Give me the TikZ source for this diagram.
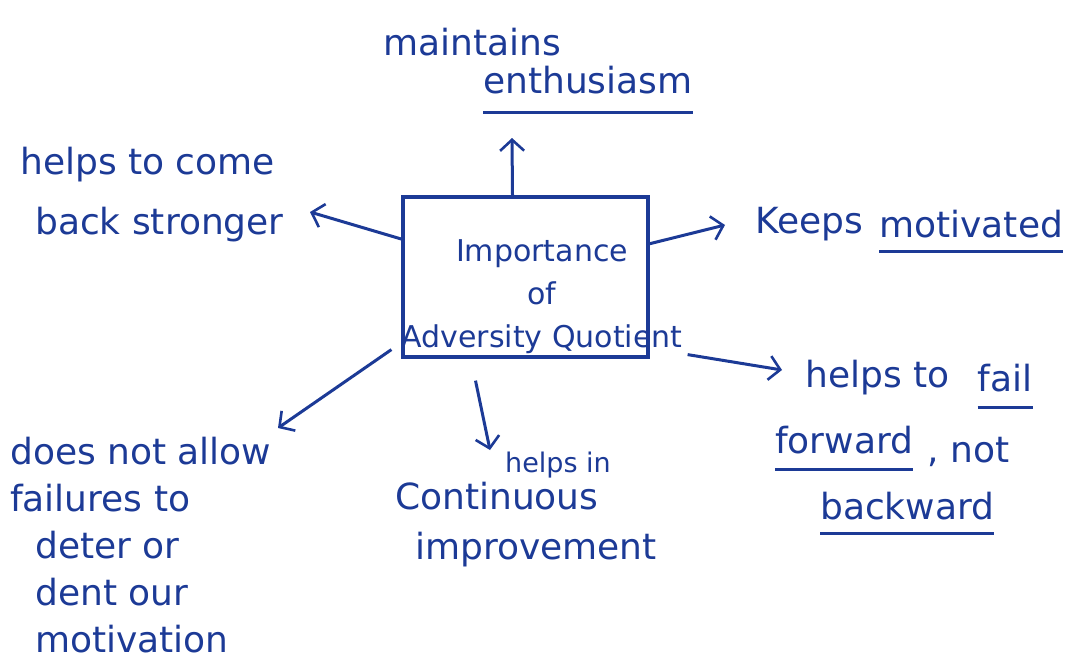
\documentclass[tikz,border=0pt]{standalone}
\usepackage{fontspec}
\setmainfont{DejaVu Sans}
\usetikzlibrary{arrows.meta,positioning}
\definecolor{inkblue}{RGB}{28,58,150}

\begin{document}
\begin{tikzpicture}[x=1pt,y=-1pt,
  hand/.style={text=inkblue,font=\fontsize{36}{48}\selectfont,inner sep=0pt,anchor=west,align=left},
  small/.style={hand,font=\fontsize{27}{32}\selectfont},
  arr/.style={-{Straight Barb[length=11pt,width=24pt,line width=2.6pt]},line width=3pt,draw=inkblue},
  ul/.style={draw=inkblue,line width=3pt}]
\useasboundingbox (0,0) rectangle (1083,666);
% central box
\node[draw=inkblue,line width=3.2pt,minimum width=245pt,minimum height=160pt] (imp) at (525.5,277) {};
\node[text=inkblue,font=\fontsize{30}{43}\selectfont,align=center,inner sep=0pt] (impt) at (542,297) {Importance\\of\\Adversity Quotient};
% branches
\node[hand] (mnt) at (383,42) {maintains};
\node[hand] (enth) at (483,80) {enthusiasm};
\node[hand] (come) at (20,195) {helps to come\\[12pt]\hspace{15pt}back stronger};
\node[hand] (keep) at (755,224) {Keeps};
\node[hand,right=16pt of keep] (motiv) {motivated};
\node[hand] (hlp) at (805,378) {helps to};
\node[hand,right=28pt of hlp] (fail) {fail};
\node[hand] (fwd) at (775,440) {forward};
\node[hand,right=14pt of fwd,yshift=-12pt] (nt) {, not};
\node[hand] (bwd) at (820,506) {backward};
\node[small] (hin) at (505,465) {helps in};
\node[hand] (cont) at (395,525) {Continuous\\[2pt]\hspace{20pt}improvement};
\node[hand] (allow) at (10,545) {does not allow\\[-1pt]failures to\\[-1pt]\hspace{25pt}deter or\\[-1pt]\hspace{25pt}dent our\\[-1pt]\hspace{25pt}motivation};
% underlines
\foreach \w/\d in {enth/18,motiv/13,fail/15,fwd/15,bwd/13}
  \draw[ul] ([yshift=-\d pt]\w.south west) -- ([yshift=-\d pt]\w.south east);
% arrow ends
\coordinate (sUp) at ([xshift=-13pt]imp.north);
\coordinate (sFail) at ([xshift=38pt,yshift=4pt]imp.south east);
\coordinate (sCont) at ([xshift=-50pt,yshift=-22pt]imp.south);
\coordinate (sAllow) at ([xshift=-10pt,yshift=9pt]imp.south west);
\coordinate (tUp) at (512,138);
\coordinate (tCome) at (310,212);
\coordinate (tKeep) at (725,225);
\coordinate (tFail) at (782,370);
\coordinate (tCont) at (490,450);
\coordinate (tAllow) at (278,428);
\foreach \a/\b in {sUp/tUp,imp.163/tCome,imp.15/tKeep,sFail/tFail,sCont/tCont,sAllow/tAllow}
  \draw[arr] (\a) -- (\b);
\end{tikzpicture}
\end{document}
